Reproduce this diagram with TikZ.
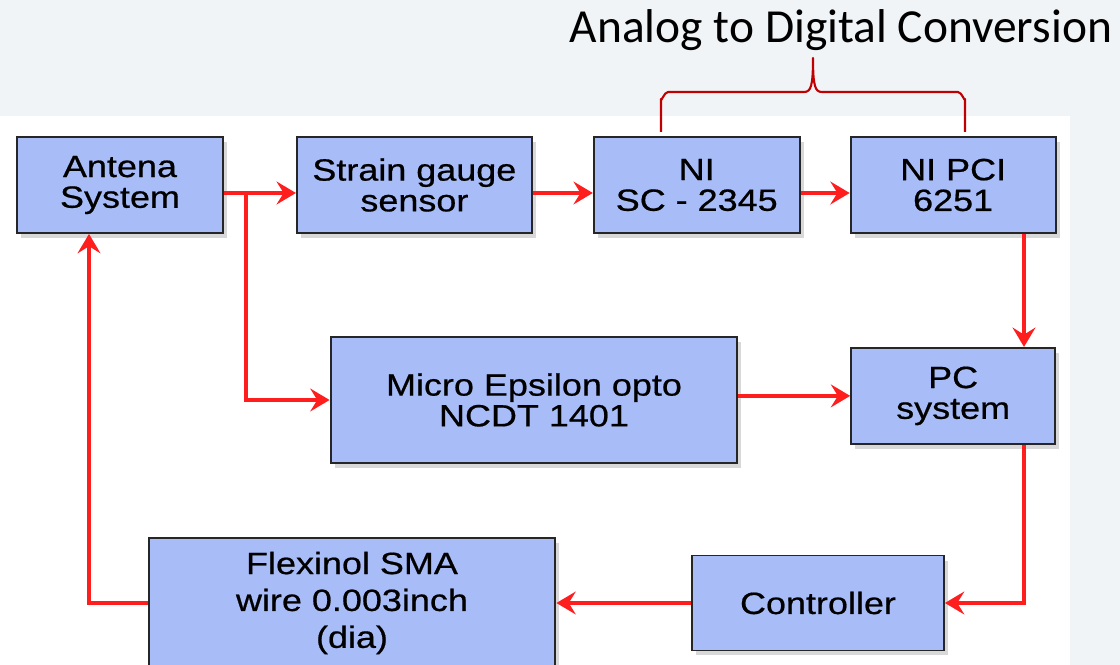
\documentclass[tikz,border=0pt]{standalone}
\usepackage{fontspec}
\setmainfont{Liberation Sans}
\newfontfamily\boxfont{Liberation Sans}[FakeStretch=1.17,FakeBold=0.6]
\newfontfamily\titlefont{Carlito}
\usetikzlibrary{positioning,shadows,arrows.meta}
\definecolor{boxblue}{RGB}{168,188,247}
\definecolor{arrowred}{RGB}{255,30,30}
\definecolor{bracered}{RGB}{192,0,0}
\definecolor{panel}{RGB}{240,244,247}

\begin{document}
\begin{tikzpicture}%
  [x=0.02cm,y=-0.02cm,
   block/.style=
    {draw=black!85,line width=1.1pt,fill=boxblue,minimum height=1.92cm,
     minimum width=4.12cm,align=center,
     font=\boxfont\fontsize{17.5}{17.5}\selectfont,
     drop shadow={shadow xshift=0.08cm,shadow yshift=-0.1cm,opacity=0.3}},
   wide/.style=
    {block,minimum width=8.14cm,minimum height=2.52cm},
   flow/.style={draw=arrowred,line width=2.2pt,
     -{Stealth[length=11pt,width=13pt,inset=4pt]}},
   brace/.style={draw=bracered,line width=1.2pt,line join=round}
  ]
  \useasboundingbox (0,0) rectangle (1120,665);
  \fill[panel] (0,0) rectangle (1120,665);
  \fill[white] (0,116) rectangle (1070,665);
  % top row
  \node[block] (ant) at (120,185) {Antena\\System};
  \node[block,minimum width=4.7cm,right=1.44cm of ant] (sg) {Strain gauge\\sensor};
  \node[block,right=1.2cm of sg] (ni) {NI\\SC - 2345};
  \node[block,minimum width=4.1cm,right=0.98cm of ni] (pci) {NI PCI\\6251};
  % middle and bottom
  \node[wide] (opto) at (534,400) {Micro Epsilon opto\\NCDT 1401};
  \node[block,minimum width=4.08cm,below=2.26cm of pci] (pc) {PC\\system};
  \node[block,minimum width=5.04cm,minimum height=1.9cm] (ctrl) at (818,603) {Controller};
  \node[wide,minimum height=2.6cm,
        font=\boxfont\fontsize{17.5}{21}\selectfont] (sma) at (352,603)
    {Flexinol SMA\\wire 0.003inch\\(dia)};
  \coordinate (row) at (0,193);
  \coordinate (tap) at (246,193);
  \coordinate (dn) at (1024,0);
  \coordinate (up) at (89,0);
  \draw[flow] (ant.east|-row) -- (sg.west|-row);
  \draw[flow] (sg.east|-row) -- (ni.west|-row);
  \draw[flow] (ni.east|-row) -- (pci.west|-row);
  \draw[flow] (tap) |- (opto.west);
  \draw[flow] (pci.south-|dn) -- (pc.north-|dn);
  \draw[flow] (opto.east|-pc.west) -- (pc.west);
  \draw[flow] (pc.south-|dn) |- (ctrl.east);
  \draw[flow] (ctrl.west) -- (sma.east|-ctrl.west);
  \draw[flow] (sma.west|-ctrl.west) -| (up|-ant.south);
  % brace over the converters
  \node[font=\titlefont\fontsize{27}{31}\selectfont,anchor=base] (adc) at (841,43)
    {Analog to Digital Conversion};
  \draw[brace] (661,132) -- (661,99) to[out=-90,in=180] (668,92) -- (804,92)
    .. controls (811,92) and (813,86) .. (813,58)
    .. controls (813,86) and (815,92) .. (822,92) -- (958,92)
    to[out=0,in=-90] (965,99) -- (965,132);
\end{tikzpicture}
\end{document}
